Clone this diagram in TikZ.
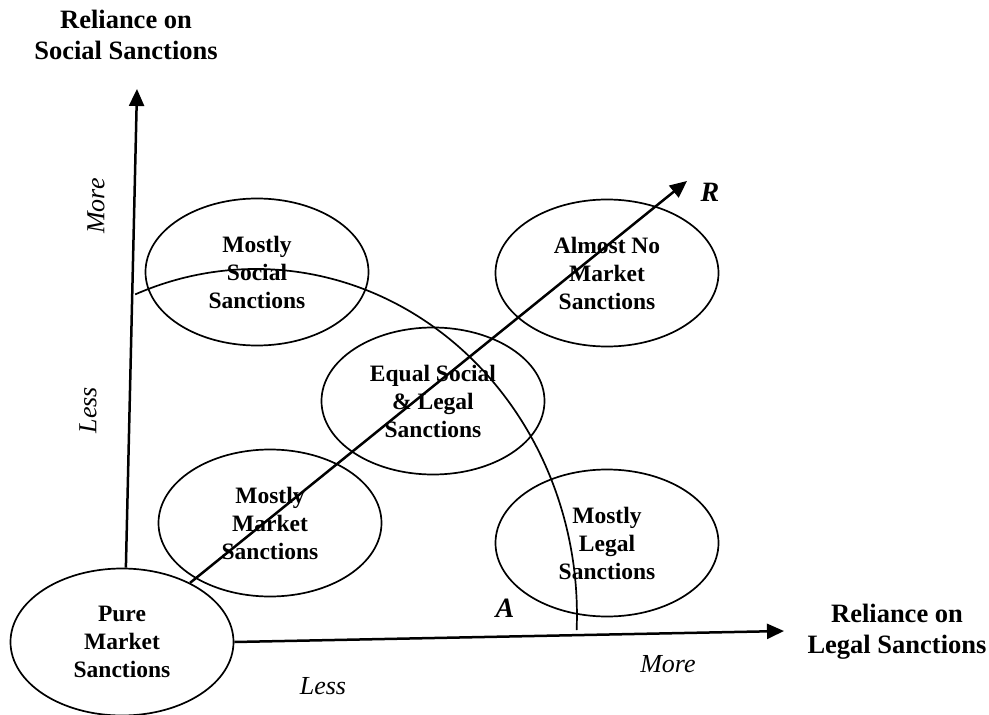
\documentclass[tikz,border=0pt]{standalone}
\usepackage{fontspec}
\setmainfont{Liberation Serif}
\usetikzlibrary{shapes.geometric,arrows.meta,calc}

\begin{document}
\begin{tikzpicture}[x=1pt,y=-1pt,
  zone/.style={ellipse, draw, line width=1.7pt, minimum width=223pt, minimum height=147pt,
    inner sep=0pt, align=center,
    font=\fontsize{23.5}{28}\selectfont\bfseries},
  axislabel/.style={align=center, inner sep=0pt, font=\fontsize{26.5}{31}\selectfont\bfseries},
  tick/.style={inner sep=0pt, font=\fontsize{26}{30}\selectfont\itshape},
  letter/.style={inner sep=0pt, font=\fontsize{28}{30}\selectfont\bfseries\itshape},
  axis/.style={line width=2.5pt, -{Triangle[length=17pt,width=15pt]}},
  arcline/.style={line width=1.7pt}]
\useasboundingbox (0,0) rectangle (989,715);

% the six regions
\node[zone] (pm) at (122,642) {Pure\\Market\\Sanctions};
\node[zone] (ms) at (257,272) {Mostly\\Social\\Sanctions};
\node[zone] (an) at (607,273) {Almost No\\Market\\Sanctions};
\node[zone] (eq) at (433,401) {Equal Social\\\& Legal\\Sanctions};
\node[zone] (mm) at (270,523) {Mostly\\Market\\Sanctions};
\node[zone] (ml) at (607,543) {Mostly\\Legal\\Sanctions};

% axes and the R ray
\coordinate (ytip) at (137,89);
\coordinate (xtip) at (784,631);
\coordinate (rtip) at (687,181);
\draw[axis] (pm.87) -- (ytip);
\draw[axis] (pm.east) -- (xtip);
\draw[axis] (pm.41) -- (rtip);

% the frontier A
\coordinate (arcstart) at (135.2,294.4);
\draw[arcline] (arcstart) arc[start angle=-112.1, end angle=2.5, x radius=321, y radius=346];

% axis titles
\node[axislabel, anchor=north] (ylab) at (126,10) {Reliance on\\Social Sanctions};
\node[axislabel, anchor=north] (xlab) at (897,604) {Reliance on\\Legal Sanctions};

% scale words
\node[tick, rotate=90] (ymore) at (96,206) {More};
\node[tick, rotate=90] (yless) at (88,410) {Less};
\node[tick] (xless) at (323,686) {Less};
\node[tick] (xmore) at (668,664) {More};

% curve and ray letters
\node[letter] (rlab) at (710,192) {R};
\node[letter] (alab) at (505,608) {A};
\end{tikzpicture}
\end{document}
